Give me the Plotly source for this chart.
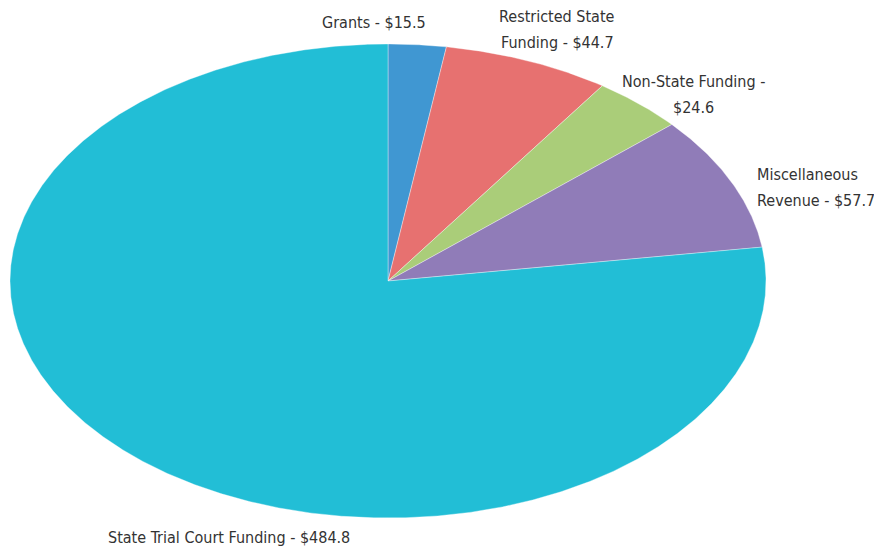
import numpy as np
import plotly.graph_objects as go

labels = ["Grants", "Restricted State Funding", "Non-State Funding",
          "Miscellaneous Revenue", "State Trial Court Funding"]
values = [15.5, 44.7, 24.6, 57.7, 484.8]
colors = ["#4097d2", "#e77170", "#aacd79", "#907cb8", "#22bed6"]
label_texts = ["Grants - $15.5", "Restricted State<br>Funding - $44.7",
               "Non-State Funding -<br>$24.6", "Miscellaneous<br>Revenue - $57.7",
               "State Trial Court Funding - $484.8"]

W, H = 874, 550
cx, cy, rx, ry = 388, 281, 378, 237

total = sum(values)
fig = go.Figure()
start = 0.0
for lab, v, c in zip(labels, values, colors):
    a0 = start / total * 2 * np.pi
    a1 = (start + v) / total * 2 * np.pi
    t = np.linspace(a0, a1, max(int((a1 - a0) * 200), 10))
    xs = np.concatenate([[0], np.sin(t), [0]])
    ys = np.concatenate([[0], np.cos(t), [0]])
    fig.add_trace(go.Scatter(x=xs, y=ys, fill="toself", fillcolor=c, mode="lines",
                             line=dict(color="rgba(255,255,255,0.6)", width=0.6),
                             hoverinfo="text", text=f"{lab}: ${v}", showlegend=False))
    start += v

# label placement: (x px, y px of first line, alignment), line spacing in px
ann_px = [(374, 22, "center"), (557, 17, "center"), (693, 82, "center"),
          (755, 175, "left"), (106, 537, "left")]
line_gap = 25
for txt, (px, py, al) in zip(label_texts, ann_px):
    for i, line in enumerate(txt.split("<br>")):
        fig.add_annotation(x=px / W, y=1 - (py + i * line_gap) / H, xref="paper", yref="paper",
                           text=line, showarrow=False, align=al,
                           xanchor="left" if al == "left" else "center", yanchor="middle",
                           font=dict(family="DejaVu Sans Condensed, Liberation Sans Narrow, Roboto",
                                     size=16, color="#333333"))

fig.update_layout(
    width=W, height=H, margin=dict(l=0, r=0, t=0, b=0),
    paper_bgcolor="white", plot_bgcolor="white",
    xaxis=dict(range=[-cx / rx, (W - cx) / rx], visible=False, fixedrange=True),
    yaxis=dict(range=[-(H - cy) / ry, cy / ry], visible=False, fixedrange=True),
)
fig.write_html("out.html", config={"displayModeBar": False},
               post_script="document.body.style.margin='0';document.body.style.overflow='hidden';")
